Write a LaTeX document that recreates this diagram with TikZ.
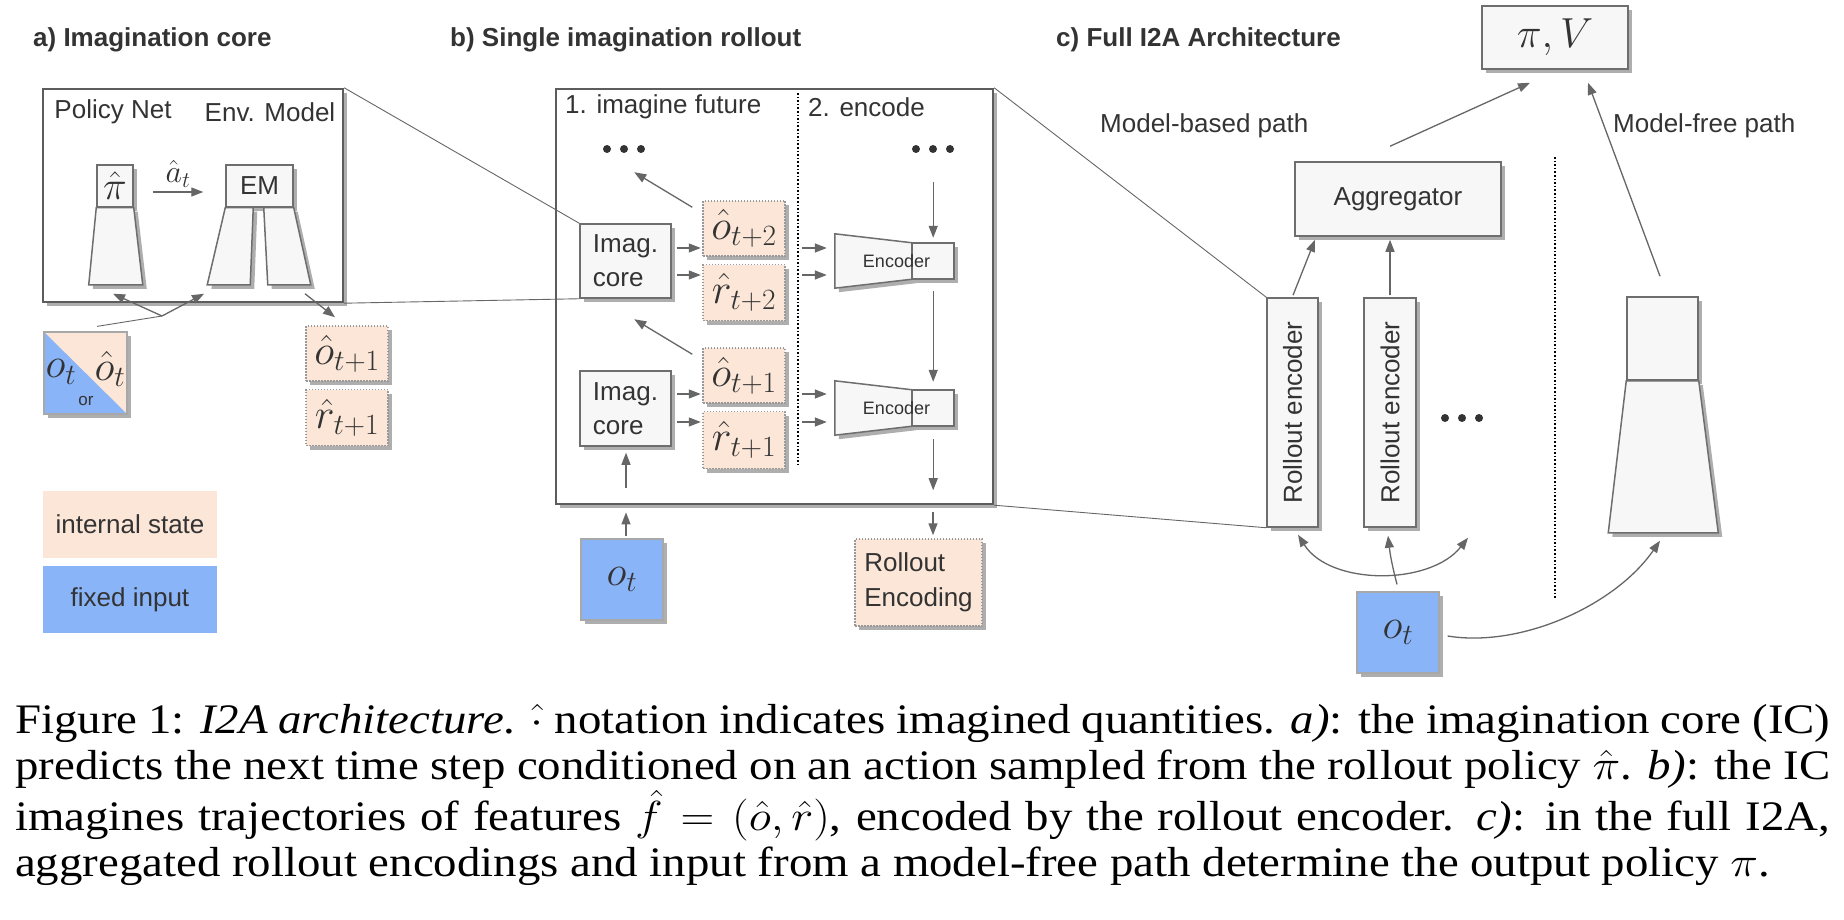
\documentclass[tikz,border=0pt]{standalone}
\usepackage{fix-cm}
\usepackage[no-math]{fontspec}
\setmainfont{Liberation Serif}
\setsansfont{Liberation Sans}
\usetikzlibrary{positioning,arrows.meta,calc,shadows}

\definecolor{boxfill}{HTML}{F7F7F7}
\definecolor{boxline}{HTML}{6E6E6E}
\definecolor{frameline}{HTML}{5C5C5C}
\definecolor{shadowgray}{HTML}{AEAEAE}
\definecolor{peach}{HTML}{FBE6D8}
\definecolor{obsblue}{HTML}{8AB4F8}
\definecolor{arrgray}{HTML}{666666}
\definecolor{inkgray}{HTML}{333333}
\newcommand{\sz}[1]{\sffamily\fontsize{#1}{#1}\selectfont}
\newcommand{\dotrow}[1]{\foreach \dx in {-17,0,17} {\fill[inkgray] ($(#1)+(\dx,0)$) circle (4pt);}}
\newcommand{\capline}[1]{\scalebox{1.115}[1]{\makebox[1628pt][s]{#1}}}
\newcommand{\caplast}[1]{\scalebox{1.115}[1]{#1}}

\begin{document}
\begin{tikzpicture}[
  x=1pt, y=-1pt,
  font=\sffamily\fontsize{26}{34}\selectfont, text=inkgray,
  softshadow/.style={drop shadow={shadow xshift=4pt, shadow yshift=-4pt, fill=shadowgray, opacity=1}},
  frame/.style={draw=frameline, line width=2.4pt, fill=white, inner sep=0pt, softshadow},
  box/.style={draw=boxline, line width=1.5pt, fill=boxfill, inner sep=0pt, softshadow},
  net/.style={draw=boxline, line width=1.5pt, fill=boxfill, softshadow},
  state/.style={draw=boxline!70, line width=1.5pt, dash pattern=on 1.5pt off 1.5pt,
                fill=peach, inner sep=0pt, softshadow, font=\sz{42}},
  obs/.style={draw=boxline!60, line width=1.2pt, fill=obsblue, inner sep=0pt, softshadow, font=\sz{42}},
  legend/.style={fill=#1, inner sep=0pt, minimum width=174pt, minimum height=67pt},
  encarea/.style={inner sep=0pt, minimum width=119pt, minimum height=54pt},
  lbl/.style={inner sep=0pt},
  title/.style={inner sep=0pt, anchor=west, font=\sffamily\bfseries\fontsize{26}{26}\selectfont},
  arr/.style={-{Triangle[length=12pt,width=9pt]}, draw=arrgray, line width=1.3pt},
  arrboth/.style={{Triangle[length=12pt,width=9pt]}-{Triangle[length=12pt,width=9pt]}, draw=arrgray, line width=1.3pt},
  link/.style={draw=arrgray, line width=0.9pt},
  divider/.style={draw=black, line width=1.6pt, dotted},
  capt/.style={inner sep=0pt, align=left, text=black,
               font=\rmfamily\fontsize{42}{46}\selectfont},
]
\useasboundingbox (0,0) rectangle (1844,920);

%====================== PANEL A ======================
\node[frame, minimum width=300pt, minimum height=213pt] (A) at (193,195.5) {};
\node[title] (At) at (33,40) {a) Imagination core};
\node[lbl] (Apol) at (113,112) {Policy Net};
\node[lbl] (Aenv) at (270,112) {Env. Model};
\node[box, minimum width=36pt, minimum height=42pt, font=\sz{40}] (Api) at (115,186) {$\hat\pi$};
\filldraw[net] (Api.south west) -- (Api.south east) -- ++(9,77) -- ++(-54,0) -- cycle;
\node[box, minimum width=67pt, minimum height=42pt] (Aem) at (259.5,186) {EM};
\filldraw[net] (Aem.south west) -- ++(28,0) -- ++(-3,77) -- ++(-43,0) -- cycle;
\filldraw[net] (Aem.south east) -- ++(-30,0) -- ++(4,77) -- ++(43,0) -- cycle;
\draw[arr] ($(Api.east)+(19,6)$) -- ($(Aem.west)+(-22,6)$)
  node[midway, above=1pt, font=\sz{32}] (Aact) {$\hat a_t$};

\node[obs, fill=peach, minimum width=83pt, minimum height=82pt,
      path picture={\fill[obsblue] (path picture bounding box.north west) -- (path picture bounding box.south east)
                    -- (path picture bounding box.south west) -- cycle;}] (ObsA) at (85.5,373) {};
\node[lbl, font=\sz{42}] (ObsAo) at (61,372) {$o_t$};
\node[lbl, font=\sz{42}] (ObsAhat) at (110,369) {$\hat o_t$};
\node[lbl, font=\sz{17}] (ObsAor) at (86,401) {or};

\node[state, minimum width=82pt, minimum height=55pt] (AO1) at (347,353.5) {$\hat o_{t+1}$};
\node[state, minimum width=82pt, minimum height=56pt, below=7pt of AO1] (AR1) {$\hat r_{t+1}$};

\coordinate (Asplit) at (162,316);
\coordinate (AobsTop) at ($(ObsA.north)+(11.5,-5)$);
\draw[link] (AobsTop) -- (Asplit);
\draw[arr] (Asplit) -- ($(Api.south)+(-2,86)$);
\draw[arr] (Asplit) -- ($(Aem.south)+(-55.5,86)$);
\draw[arr] ($(Aem.south)+(45.5,86)$) -- ($(AO1.north)+(-12,-8)$);

\node[legend=peach] (Lint) at (130,524.5) {internal state};
\node[legend=obsblue, below=8pt of Lint] (Lfix) {fixed input};

%====================== PANEL B ======================
\node[frame, minimum width=437pt, minimum height=415pt] (B) at (774.5,296.5) {};
\node[title] (Bt) at (450,40) {b) Single imagination rollout};
\node[lbl, anchor=west] (Bimag) at (565,107) {1. imagine future};
\node[lbl, anchor=west] (Benc) at (808,107) {2. encode};
\draw[divider] (798,93) -- (798,466);
\dotrow{624,149}
\dotrow{933,149}

\node[box, minimum width=91pt, minimum height=74pt, align=left] (ICtop) at (625.5,261) {Imag.\\core};
\node[box, minimum width=91pt, minimum height=75pt, align=left] (ICbot) at (625.5,408.5) {Imag.\\core};
\node[state, minimum width=82pt, minimum height=55pt] (O2) at (744,228.5) {$\hat o_{t+2}$};
\node[state, minimum width=82pt, minimum height=56pt, below=7pt of O2] (R2) {$\hat r_{t+2}$};
\node[state, minimum width=82pt, minimum height=55pt] (O1) at (744,375.5) {$\hat o_{t+1}$};
\node[state, minimum width=82pt, minimum height=57pt, below=7pt of O1] (R1) {$\hat r_{t+1}$};

\node[encarea] (Enc1) at (894.5,261) {};
\filldraw[net] (Enc1.north west) -- ($(Enc1.north east)+(-42,9)$) -- ($(Enc1.south east)+(-42,-9)$) -- (Enc1.south west) -- cycle;
\filldraw[net] ($(Enc1.north east)+(-42,9)$) rectangle ($(Enc1.south east)+(0,-9)$);
\node[lbl, font=\sz{18}] (Enc1t) at ([xshift=2pt]Enc1) {Encoder};
\node[encarea] (Enc2) at (894.5,408) {};
\filldraw[net] (Enc2.north west) -- ($(Enc2.north east)+(-42,9)$) -- ($(Enc2.south east)+(-42,-9)$) -- (Enc2.south west) -- cycle;
\filldraw[net] ($(Enc2.north east)+(-42,9)$) rectangle ($(Enc2.south east)+(0,-9)$);
\node[lbl, font=\sz{18}] (Enc2t) at ([xshift=2pt]Enc2) {Encoder};

\draw[arr] ($(ICtop.east)+(5,-13)$) -- ($(ICtop.east)+(29,-13)$);
\draw[arr] ($(ICtop.east)+(5,14)$) -- ($(ICtop.east)+(29,14)$);
\draw[arr] ($(ICbot.east)+(5,-14.5)$) -- ($(ICbot.east)+(29,-14.5)$);
\draw[arr] ($(ICbot.east)+(5,13.5)$) -- ($(ICbot.east)+(29,13.5)$);
\draw[arr] ($(Enc1.west)+(-33,-13)$) -- ($(Enc1.west)+(-8,-13)$);
\draw[arr] ($(Enc1.west)+(-33,14)$) -- ($(Enc1.west)+(-8,14)$);
\draw[arr] ($(Enc2.west)+(-33,-14)$) -- ($(Enc2.west)+(-8,-14)$);
\draw[arr] ($(Enc2.west)+(-33,14)$) -- ($(Enc2.west)+(-8,14)$);
\draw[arr] ($(O2.north west)+(-10,7)$) -- ++(-58,-35);
\draw[arr] ($(O1.north west)+(-10,7)$) -- ++(-58,-35);
\draw[arr] ($(Enc1.north east)+(-21,-52)$) -- ($(Enc1.north east)+(-21,4)$);
\draw[arr] ($(Enc1.south east)+(-21,3)$) -- ($(Enc2.north east)+(-21,1)$);
\draw[arr] ($(Enc2.south east)+(-21,4)$) -- ($(Enc2.south east)+(-21,55)$);

\node[obs, minimum width=82pt, minimum height=81pt] (ObsB) at (622,579.5) {$o_t$};
\node[state, font=\sffamily\fontsize{26}{35}\selectfont, minimum width=127pt, minimum height=87pt, align=left]
     (RollEnc) at (918.5,582.5) {Rollout\\Encoding};
\draw[arr] ($(ObsB.north)+(4,-2)$) -- ($(ObsB.north)+(4,-26)$);
\draw[arr] ($(ICbot.south)+(0.5,41)$) -- ($(ICbot.south)+(0.5,6)$);
\draw[arr] ($(RollEnc.north)+(14.5,-26)$) -- ($(RollEnc.north)+(14.5,-3)$);

%====================== PANEL C ======================
\node[title] (Ct) at (1056,40) {c) Full I2A Architecture};
\node[box, minimum width=146pt, minimum height=63pt, font=\sz{42}] (PiV) at (1555,37.5) {$\pi, V$};
\node[lbl, anchor=west] (MBpath) at (1100,126) {Model-based path};
\node[lbl, anchor=west] (MFpath) at (1613,126) {Model-free path};
\node[box, minimum width=206pt, minimum height=74pt] (Agg) at (1398,199) {Aggregator};
\node[box, minimum width=51pt, minimum height=229pt] (RE1) at (1292.5,412.5) {\rotatebox{90}{Rollout encoder}};
\node[box, minimum width=52pt, minimum height=229pt] (RE2) at (1390,412.5) {\rotatebox{90}{Rollout encoder}};
\dotrow{1462,418}
\draw[divider] (1555,157) -- (1555,598);
\node[box, minimum width=71pt, minimum height=83pt] (MFnet) at (1662.5,338.5) {};
\filldraw[net] (MFnet.south west) -- (MFnet.south east) -- ++(19.5,152) -- ++(-110,0) -- cycle;
\node[obs, minimum width=82pt, minimum height=81pt] (ObsC) at (1398,632.5) {$o_t$};

\draw[arr] ($(Agg.north)+(-8,-15)$) -- ($(PiV.south)+(-25,13)$);
\draw[arr] ($(MFnet.north)+(-2.5,-20)$) -- ($(PiV.south)+(33,13)$);
\draw[arr] ($(RE1.north)+(0.5,-2)$) -- ($(Agg.south)+(-83,3)$);
\draw[arr] ($(RE2.north)+(0,-2)$) -- ($(Agg.south)+(-8,3)$);
\draw[arr] ($(ObsC.north)+(-1,-7)$) to[bend left=4] ($(RE2.south)+(-2,8)$);
\draw[arrboth] ($(RE1.south)+(5.5,7)$) .. controls +(32,51) and +(-38,48) .. ($(RE2.south)+(78,10)$);
\draw[arr] ($(ObsC.east)+(8,3.5)$) .. controls +(73,12) and +(-45,65) .. ($(MFnet.south)+(-2.5,160)$);

%====================== LINKS BETWEEN PANELS ======================
\draw[link] (A.north east) -- (ICtop.north west);
\draw[link] (A.south east) -- (ICtop.south west);
\draw[link] (B.north east) -- (RE1.north west);
\draw[link] (B.south east) -- (RE1.south west);

%====================== CAPTION ======================
\node[capt, anchor=north west] (Capt) at (15,704) {%
\capline{Figure 1: \textit{I2A architecture}. $\hat{\cdot}$ notation indicates imagined quantities. \textit{a)}: the imagination core (IC)}\\
\capline{predicts the next time step conditioned on an action sampled from the rollout policy $\hat{\pi}$. \textit{b)}: the IC}\\
\capline{imagines trajectories of features $\hat{f} = (\hat{o}, \hat{r})$, encoded by the rollout encoder. \textit{c)}: in the full I2A,}\\
\caplast{aggregated rollout encodings and input from a model-free path determine the output policy $\pi$.}};
\end{tikzpicture}
\end{document}
